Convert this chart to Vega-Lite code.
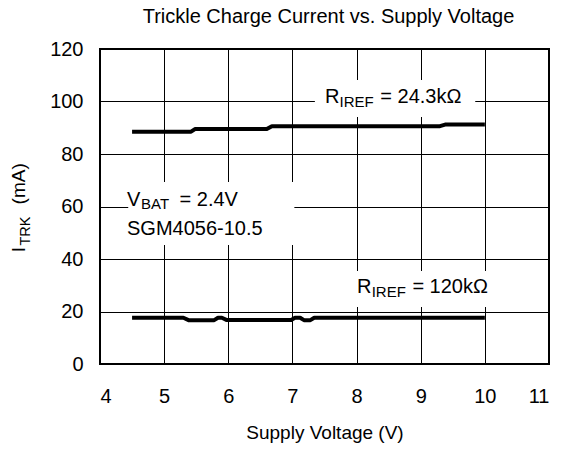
{
  "$schema": "https://vega.github.io/schema/vega-lite/v6.json",
  "autosize": "none",
  "padding": {"left": 100, "top": 49, "right": 20, "bottom": 86},
  "width": 449,
  "height": 315,
  "background": "white",
  "title": {
    "text": "Trickle Charge Current vs. Supply Voltage",
    "font": "Liberation Sans",
    "fontSize": 20,
    "fontWeight": "normal",
    "color": "black",
    "anchor": "middle",
    "offset": 12,
    "dx": 4
  },
  "config": {
    "view": {"stroke": "black", "strokeWidth": 2},
    "axis": {
      "grid": true,
      "gridColor": "black",
      "gridOpacity": 1,
      "gridWidth": 1,
      "ticks": false,
      "domain": false,
      "labelFont": "Liberation Sans",
      "labelFontSize": 20,
      "labelColor": "black",
      "titleFont": "Liberation Sans",
      "titleFontSize": 19,
      "titleFontWeight": "normal",
      "titleColor": "black"
    },
    "text": {"font": "Liberation Sans", "color": "black"}
  },
  "datasets": {
    "curves": [
      {"series": "24.3k", "v": 4.5, "i": 88.5},
      {"series": "24.3k", "v": 5.42, "i": 88.5},
      {"series": "24.3k", "v": 5.48, "i": 89.5},
      {"series": "24.3k", "v": 6.6, "i": 89.5},
      {"series": "24.3k", "v": 6.68, "i": 90.6},
      {"series": "24.3k", "v": 9.3, "i": 90.6},
      {"series": "24.3k", "v": 9.38, "i": 91.2},
      {"series": "24.3k", "v": 10.0, "i": 91.2},
      {"series": "120k", "v": 4.5, "i": 17.6},
      {"series": "120k", "v": 5.3, "i": 17.6},
      {"series": "120k", "v": 5.38, "i": 16.7},
      {"series": "120k", "v": 5.78, "i": 16.7},
      {"series": "120k", "v": 5.84, "i": 17.6},
      {"series": "120k", "v": 5.9, "i": 17.6},
      {"series": "120k", "v": 5.97, "i": 16.8},
      {"series": "120k", "v": 6.98, "i": 16.8},
      {"series": "120k", "v": 7.04, "i": 17.6},
      {"series": "120k", "v": 7.12, "i": 17.6},
      {"series": "120k", "v": 7.18, "i": 16.7},
      {"series": "120k", "v": 7.28, "i": 16.7},
      {"series": "120k", "v": 7.34, "i": 17.6},
      {"series": "120k", "v": 10.0, "i": 17.6}
    ],
    "boxes": [
      {"x0": 7.35, "x1": 9.85, "y0": 94.1, "y1": 108.2},
      {"x0": 7.9, "x1": 10.16, "y0": 21.7, "y1": 35.4},
      {"x0": 4.44, "x1": 7.03, "y0": 45.3, "y1": 69.3}
    ],
    "labels": [
      {"kind": "main", "x": 7.508, "y": 99.4, "text": "R"},
      {"kind": "sub", "x": 7.735, "y": 97.9, "text": "IREF"},
      {"kind": "main", "x": 8.37, "y": 99.4, "text": "= 24.3kΩ"},
      {"kind": "main", "x": 8.007, "y": 27.0, "text": "R"},
      {"kind": "sub", "x": 8.235, "y": 25.4, "text": "IREF"},
      {"kind": "main", "x": 8.87, "y": 27.0, "text": "= 120kΩ"},
      {"kind": "main", "x": 4.421, "y": 60.2, "text": "V"},
      {"kind": "sub", "x": 4.64, "y": 59.0, "text": "BAT"},
      {"kind": "main", "x": 5.24, "y": 60.2, "text": "= 2.4V"},
      {"kind": "main", "x": 4.421, "y": 49.1, "text": "SGM4056-10.5"},
      {"kind": "ymain", "x": 2.831, "y": 42.6, "text": "I"},
      {"kind": "ysub", "x": 2.91, "y": 45.1, "text": "TRK"},
      {"kind": "ymain", "x": 2.831, "y": 60.8, "text": "(mA)"}
    ]
  },
  "layer": [
    {
      "data": {"name": "boxes"},
      "mark": {"type": "rect", "fill": "white", "stroke": null},
      "encoding": {
        "x": {"field": "x0", "type": "quantitative"},
        "x2": {"field": "x1"},
        "y": {"field": "y0", "type": "quantitative"},
        "y2": {"field": "y1"}
      }
    },
    {
      "data": {"name": "curves"},
      "mark": {"type": "line", "color": "black", "strokeWidth": 4, "strokeCap": "butt", "strokeJoin": "round"},
      "encoding": {
        "x": {
          "field": "v",
          "type": "quantitative",
          "scale": {"domain": [4, 11], "nice": false, "zero": false},
          "axis": {"values": [4, 5, 6, 7, 8, 9, 10, 11], "format": "d", "labelPadding": 22, "title": "Supply Voltage (V)", "titlePadding": 17}
        },
        "y": {
          "field": "i",
          "type": "quantitative",
          "scale": {"domain": [0, 120], "nice": false},
          "axis": {"values": [0, 20, 40, 60, 80, 100, 120], "format": "d", "labelPadding": 17, "title": null}
        },
        "detail": {"field": "series"}
      }
    },
    {
      "data": {"name": "labels"},
      "transform": [{"filter": "datum.kind === 'main'"}],
      "mark": {"type": "text", "fontSize": 20, "align": "left", "baseline": "alphabetic"},
      "encoding": {
        "x": {"field": "x", "type": "quantitative"},
        "y": {"field": "y", "type": "quantitative"},
        "text": {"field": "text"}
      }
    },
    {
      "data": {"name": "labels"},
      "transform": [{"filter": "datum.kind === 'sub'"}],
      "mark": {"type": "text", "fontSize": 15, "align": "left", "baseline": "alphabetic"},
      "encoding": {
        "x": {"field": "x", "type": "quantitative"},
        "y": {"field": "y", "type": "quantitative"},
        "text": {"field": "text"}
      }
    },
    {
      "data": {"name": "labels"},
      "transform": [{"filter": "datum.kind === 'ymain'"}],
      "mark": {"type": "text", "fontSize": 19, "align": "left", "baseline": "alphabetic", "angle": 270},
      "encoding": {
        "x": {"field": "x", "type": "quantitative"},
        "y": {"field": "y", "type": "quantitative"},
        "text": {"field": "text"}
      }
    },
    {
      "data": {"name": "labels"},
      "transform": [{"filter": "datum.kind === 'ysub'"}],
      "mark": {"type": "text", "fontSize": 14.5, "align": "left", "baseline": "alphabetic", "angle": 270},
      "encoding": {
        "x": {"field": "x", "type": "quantitative"},
        "y": {"field": "y", "type": "quantitative"},
        "text": {"field": "text"}
      }
    }
  ]
}
